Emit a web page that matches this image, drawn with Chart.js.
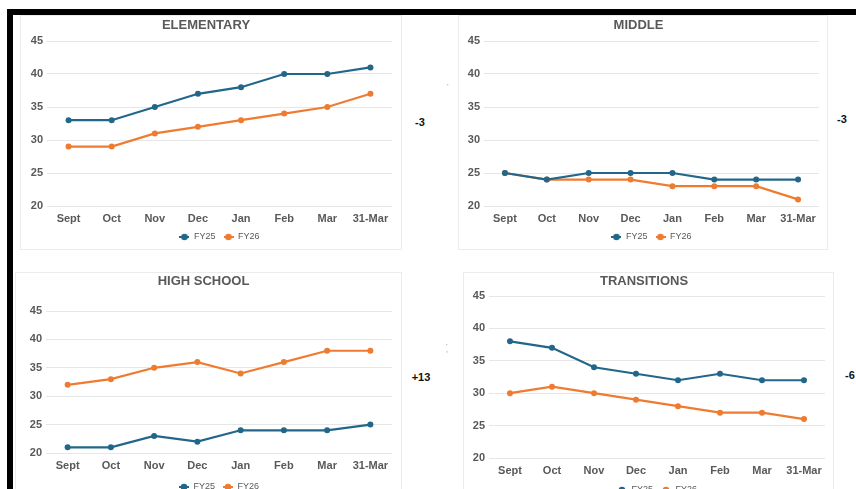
<!DOCTYPE html>
<html>
<head>
<meta charset="utf-8">
<script src="https://cdn.jsdelivr.net/npm/chart.js@4/dist/chart.umd.min.js"></script>
<style>
  html, body { margin: 0; padding: 0; background: #fff; }
  body { width: 856px; height: 489px; position: relative; overflow: hidden; font-family: "Liberation Sans", Arial, sans-serif; }
  .bar { position: absolute; background: #000; }
  .box { position: absolute; border: 1px solid #ececec; box-sizing: border-box; }
  .wrap { position: absolute; }
  .note { position: absolute; font-weight: bold; font-size: 11px; color: #111; transform: translate(-50%, -50%); }
  .speck { position: absolute; font-size: 7px; color: #888; }
</style>
</head>
<body>
<div class="bar" style="left:7px;top:9px;width:849px;height:6px;"></div>
<div class="bar" style="left:7px;top:9px;width:6px;height:480px;"></div>

<div class="note" style="left:420px;top:122px;">-3</div>
<div class="note" style="left:842px;top:119px;">-3</div>
<div class="note" style="left:421px;top:377px;">+13</div>
<div class="note" style="left:850px;top:375px;">-6</div>
<div class="speck" style="left:447px;top:83px;">'</div>
<div class="speck" style="left:446px;top:343px;">'</div>
<div class="speck" style="left:446px;top:346px;">,</div>

<script>
// data
const months = ["Sept", "Oct", "Nov", "Dec", "Jan", "Feb", "Mar", "31-Mar"];
const seriesNames = ["FY25", "FY26"];
const yTicks = [20, 25, 30, 35, 40, 45];

const elementaryFY25 = [33, 33, 35, 37, 38, 40, 40, 41];
const elementaryFY26 = [29, 29, 31, 32, 33, 34, 35, 37];
const middleFY25 = [25, 24, 25, 25, 25, 24, 24, 24];
const middleFY26 = [25, 24, 24, 24, 23, 23, 23, 21];
const highFY25 = [21, 21, 23, 22, 24, 24, 24, 25];
const highFY26 = [32, 33, 35, 36, 34, 36, 38, 38];
const transitionsFY25 = [38, 37, 34, 33, 32, 33, 32, 32];
const transitionsFY26 = [30, 31, 30, 29, 28, 27, 27, 26];

const BLUE = "#22678a";
const ORANGE = "#ef7b31";
const GREY = "#595959";

// page layout for each panel (absolute pixels)
const panels = [
    { title: "ELEMENTARY", a: elementaryFY25, b: elementaryFY26,
      box: [20, 15, 382, 235], titleY: 25, plotTop: 41, plotBottom: 206, plotLeft: 47, plotRight: 392, xLabelY: 217, legendY: 237 },
    { title: "MIDDLE", a: middleFY25, b: middleFY26,
      box: [458, 15, 370, 235], titleY: 25, plotTop: 41, plotBottom: 206, plotLeft: 484, plotRight: 819, xLabelY: 217, legendY: 237 },
    { title: "HIGH SCHOOL", a: highFY25, b: highFY26,
      box: [15, 272, 387, 240], titleY: 281, plotTop: 311, plotBottom: 453, plotLeft: 46, plotRight: 392, xLabelY: 464, legendY: 487 },
    { title: "TRANSITIONS", a: transitionsFY25, b: transitionsFY26,
      box: [463, 272, 371, 240], titleY: 281, plotTop: 296, plotBottom: 458, plotLeft: 489, plotRight: 825, xLabelY: 469, legendY: 490 }
];

function legendIcon(color) {
    const c = document.createElement("canvas");
    c.width = 10; c.height = 8;
    const g = c.getContext("2d");
    g.strokeStyle = color; g.lineWidth = 2;
    g.beginPath(); g.moveTo(0, 4); g.lineTo(10, 4); g.stroke();
    g.fillStyle = color;
    g.beginPath(); g.arc(5, 4, 3.3, 0, Math.PI * 2); g.fill();
    return c;
}
const icons = [legendIcon(BLUE), legendIcon(ORANGE)];

const TITLE_SIZE = 13, TICK_SIZE = 11, LEGEND_SIZE = 9, LEGEND_PAD = 8;

panels.forEach(p => {
    const [bx, by, bw, bh] = p.box;
    const box = document.createElement("div");
    box.className = "box";
    box.style.cssText = `left:${bx}px;top:${by}px;width:${bw}px;height:${bh}px;`;
    document.body.appendChild(box);

    // canvas spans from box top to just below the legend
    const canvasH = Math.round(p.legendY + 14.5 - by);
    const wrap = document.createElement("div");
    wrap.className = "wrap";
    wrap.style.cssText = `left:${bx}px;top:${by}px;width:${bw}px;height:${canvasH}px;`;
    const cv = document.createElement("canvas");
    wrap.appendChild(cv);
    document.body.appendChild(wrap);

    const titleLH = TITLE_SIZE * 1.2;
    const titlePadTop = p.titleY - by - titleLH / 2;
    const titlePadBottom = p.plotTop - p.titleY - titleLH / 2;
    const legendH = LEGEND_SIZE + LEGEND_PAD + 10;
    const padBottom = canvasH - (p.legendY - by) - 14.5;
    const xAxisH = canvasH - padBottom - legendH - (p.plotBottom - by);
    const xTickPad = p.xLabelY - p.plotBottom - TICK_SIZE * 1.2 / 2 + 2;

    new Chart(cv, {
        type: "line",
        data: {
            labels: months,
            datasets: [
                { label: seriesNames[0], data: p.a, borderColor: BLUE, backgroundColor: BLUE },
                { label: seriesNames[1], data: p.b, borderColor: ORANGE, backgroundColor: ORANGE }
            ]
        },
        options: {
            responsive: true,
            maintainAspectRatio: false,
            animation: false,
            events: [],
            elements: {
                line: { borderWidth: 2.2, tension: 0 },
                point: { radius: 3, borderWidth: 0 }
            },
            layout: { padding: { left: 0, top: 0, right: bx + bw - p.plotRight, bottom: padBottom } },
            plugins: {
                title: {
                    display: true, text: p.title, color: GREY,
                    font: { family: "Liberation Sans", size: TITLE_SIZE, weight: "bold" },
                    padding: { top: titlePadTop, bottom: titlePadBottom }
                },
                legend: {
                    position: "bottom",
                    fullSize: false,
                    labels: {
                        color: GREY, padding: LEGEND_PAD, usePointStyle: true, pointStyleWidth: 10,
                        font: { family: "Liberation Sans", size: LEGEND_SIZE },
                        generateLabels: chart => {
                            const items = Chart.defaults.plugins.legend.labels.generateLabels(chart);
                            items.forEach((it, i) => { it.pointStyle = icons[i]; });
                            return items;
                        }
                    }
                },
                tooltip: { enabled: false }
            },
            scales: {
                x: {
                    offset: true,
                    grid: { display: false, drawTicks: false, offset: true },
                    border: { display: false },
                    ticks: { color: GREY, padding: xTickPad, maxRotation: 0, autoSkip: false,
                             font: { family: "Liberation Sans", size: TICK_SIZE, weight: "bold" } },
                    afterFit: s => { s.height = xAxisH; }
                },
                y: {
                    min: yTicks[0], max: yTicks[yTicks.length - 1],
                    afterBuildTicks: s => { s.ticks = yTicks.map(v => ({ value: v })); },
                    grid: { color: "#e6e6e6", lineWidth: 1, drawTicks: false },
                    border: { display: false },
                    ticks: { color: GREY, padding: 4,
                             font: { family: "Liberation Sans", size: TICK_SIZE, weight: "bold" } },
                    afterFit: s => { s.width = p.plotLeft - bx; }
                }
            }
        }
    });
});
</script>
</body>
</html>
